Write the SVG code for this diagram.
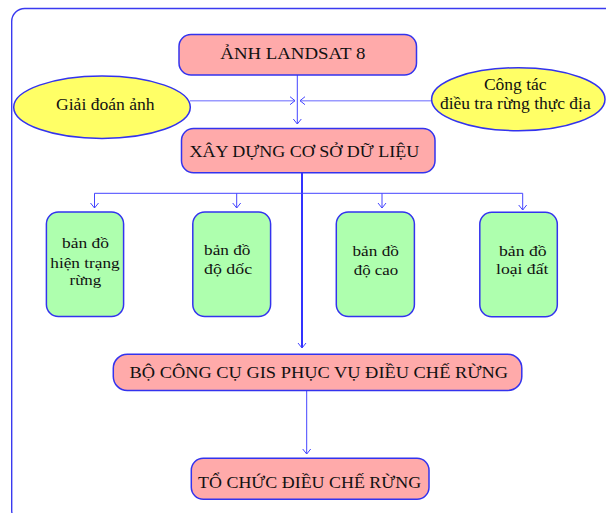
<svg xmlns="http://www.w3.org/2000/svg" width="606" height="513" viewBox="0 0 606 513">
<style>
  .frame { fill: none; stroke: #3a3af0; stroke-width: 1.4; }
  .pink { fill: #ffaaaa; stroke: #3333ee; stroke-width: 1.5; }
  .green { fill: #aeffae; stroke: #3333ee; stroke-width: 1.5; }
  .yellow { fill: #ffff66; stroke: #3333ee; stroke-width: 1.5; }
  text { font-family: "Liberation Serif", "Times New Roman", serif; fill: #111; }
  .big { font-size: 16px; }
  .small { font-size: 15px; }
  .c { text-anchor: middle; }
  .conn { fill: none; stroke: #4444ff; stroke-width: 1; }
  .soft { fill: none; stroke: #9a9aff; stroke-width: 1.6; }
  .thick { fill: none; stroke: #3333ff; stroke-width: 2; }
</style>
<defs>
  <marker id="arr" viewBox="-6 -5 7 10" refX="0" refY="0" markerWidth="7" markerHeight="10" markerUnits="userSpaceOnUse" orient="auto">
    <path d="M-5,-4 L0,0 L-5,4" fill="none" stroke="#4444ff" stroke-width="1"/>
  </marker>
</defs>
<rect class="frame" x="11.7" y="8.5" width="640" height="515" rx="13" ry="13"/>

<g id="connectors">
  <path class="conn" d="M297.3,75 V124" marker-end="url(#arr)"/>
  <path class="soft" d="M190,100.7 H295" marker-end="url(#arr)"/>
  <path class="soft" d="M431.7,100.7 H300" marker-end="url(#arr)"/>
  <path class="thick" d="M302,173 V348" marker-end="url(#arr)"/>
  <path class="conn" d="M94.5,193.3 H522.7"/>
  <path class="conn" d="M94.5,193.3 V208" marker-end="url(#arr)"/>
  <path class="conn" d="M236.7,193.3 V208" marker-end="url(#arr)"/>
  <path class="conn" d="M382,193.3 V208" marker-end="url(#arr)"/>
  <path class="conn" d="M522.7,193.3 V210" marker-end="url(#arr)"/>
  <path class="conn" d="M306.7,390.5 V454" marker-end="url(#arr)"/>
</g>

<g id="anh-landsat">
  <rect class="pink" x="179" y="34.5" width="237.5" height="40.5" rx="12"/>
  <text class="big c" x="292.8" y="58.5" textLength="145" lengthAdjust="spacingAndGlyphs">ẢNH LANDSAT 8</text>
</g>

<g id="giai-doan">
  <ellipse class="yellow" cx="102" cy="107.2" rx="88.3" ry="31.2"/>
  <text class="big c" x="105.3" y="109.5" textLength="98.6" lengthAdjust="spacingAndGlyphs">Giải đoán ảnh</text>
</g>

<g id="cong-tac">
  <ellipse class="yellow" cx="518.3" cy="99.2" rx="86.7" ry="31.5"/>
  <text class="big c" x="515.3" y="90" textLength="62.7" lengthAdjust="spacingAndGlyphs">Công tác</text>
  <text class="big c" x="515.3" y="108.5" textLength="150.7" lengthAdjust="spacingAndGlyphs">điều tra rừng thực địa</text>
</g>

<g id="xay-dung">
  <rect class="pink" x="181.5" y="128.5" width="253.5" height="44.2" rx="12"/>
  <text class="big c" x="304.4" y="157" textLength="230" lengthAdjust="spacingAndGlyphs">XÂY DỰNG CƠ SỞ DỮ LIỆU</text>
</g>

<g id="ban-do-hien-trang">
  <rect class="green" x="46.4" y="212" width="77.2" height="104.5" rx="12"/>
  <text class="small c" x="85.5" y="248.3" textLength="47" lengthAdjust="spacingAndGlyphs">bản đồ</text>
  <text class="small c" x="85" y="268.3" textLength="69.5" lengthAdjust="spacingAndGlyphs">hiện trạng</text>
  <text class="small c" x="85.4" y="285" textLength="31.7" lengthAdjust="spacingAndGlyphs">rừng</text>
</g>

<g id="ban-do-do-doc">
  <rect class="green" x="192.8" y="212" width="77.8" height="104.5" rx="12"/>
  <text class="small" x="204.1" y="255" textLength="46.4" lengthAdjust="spacingAndGlyphs">bản đồ</text>
  <text class="small" x="204.1" y="273.5" textLength="48" lengthAdjust="spacingAndGlyphs">độ dốc</text>
</g>

<g id="ban-do-do-cao">
  <rect class="green" x="336.3" y="212" width="78.1" height="104.5" rx="12"/>
  <text class="small c" x="375.7" y="256" textLength="46.4" lengthAdjust="spacingAndGlyphs">bản đồ</text>
  <text class="small c" x="376" y="275" textLength="44.5" lengthAdjust="spacingAndGlyphs">độ cao</text>
</g>

<g id="ban-do-loai-dat">
  <rect class="green" x="479.8" y="212.3" width="77.5" height="104.4" rx="12"/>
  <text class="small c" x="522.8" y="256" textLength="47.7" lengthAdjust="spacingAndGlyphs">bản đồ</text>
  <text class="small c" x="522.2" y="274" textLength="52.3" lengthAdjust="spacingAndGlyphs">loại đất</text>
</g>

<g id="bo-cong-cu">
  <rect class="pink" x="113.3" y="354.3" width="408.5" height="36.2" rx="14"/>
  <text class="big c" x="318.8" y="377.5" textLength="378.5" lengthAdjust="spacingAndGlyphs">BỘ CÔNG CỤ GIS PHỤC VỤ ĐIỀU CHẾ RỪNG</text>
</g>

<g id="to-chuc">
  <rect class="pink" x="191.3" y="458.3" width="237.7" height="41" rx="12"/>
  <text class="big c" x="309.6" y="488" textLength="223" lengthAdjust="spacingAndGlyphs">TỔ CHỨC ĐIỀU CHẾ RỪNG</text>
</g>
</svg>
